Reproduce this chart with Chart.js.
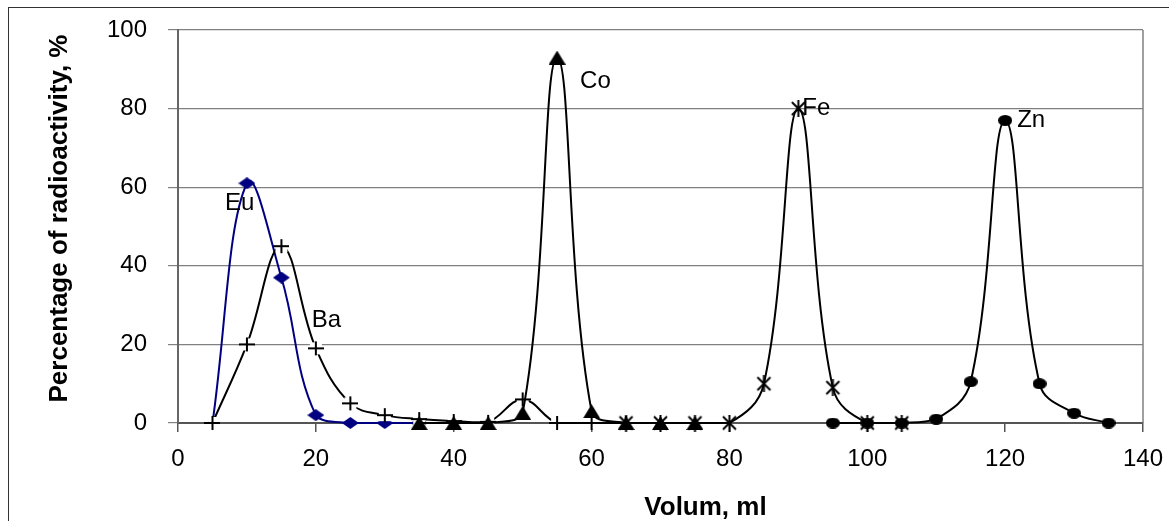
<!DOCTYPE html>
<html>
<head>
<meta charset="utf-8">
<script src="https://cdn.jsdelivr.net/npm/chart.js@4.4.1/dist/chart.umd.min.js"></script>
<style>
    html, body { margin: 0; padding: 0; background: #fff; overflow: hidden; }
    #frame { position: absolute; left: 8px; top: 7px; width: 1300px; height: 700px; border: 1px solid #333; }
    #myChart { position: absolute; left: 0; top: 0; }
</style>
</head>
<body>
<div id="frame"></div>
<canvas id="myChart" width="1169" height="521"></canvas>
<script>
// values (volume in ml, % of radioactivity)
const euVolume = [5, 10, 15, 20, 25, 30, 35];
const euActivity = [0, 61, 37, 2, 0, 0, 0];
const baVolume = [5, 10, 15, 20, 25, 30, 35, 40, 45, 50, 55, 60, 65];
const baActivity = [0, 20, 45, 19, 5, 2, 1, 0.5, 0.3, 6, 0, 0, 0];
const coVolume = [35, 40, 45, 50, 55, 60, 65, 70, 75];
const coActivity = [0, 0, 0, 2.6, 93, 3, 0, 0, 0];
const feVolume = [65, 70, 75, 80, 85, 90, 95, 100, 105];
const feActivity = [0, 0, 0, 0, 10, 80, 9, 0, 0];
const znVolume = [95, 100, 105, 110, 115, 120, 125, 130, 135];
const znActivity = [0, 0, 0, 1, 10.5, 77, 10, 2.5, 0];

const xTickValues = [0, 20, 40, 60, 80, 100, 120, 140];
const yTickValues = [0, 20, 40, 60, 80, 100];
const xTitle = 'Volum, ml';
const yTitle = 'Percentage of radioactivity, %';

const FONT = '"Liberation Sans", Arial, sans-serif';

function makeMarker(w, h, draw) {
    const c = document.createElement('canvas');
    c.width = w;
    c.height = h;
    draw(c.getContext('2d'), w, h);
    return c;
}

const diamond = makeMarker(17, 12, (g, w, h) => {
    g.fillStyle = '#000080';
    g.beginPath();
    g.moveTo(w / 2, 0); g.lineTo(w, h / 2); g.lineTo(w / 2, h); g.lineTo(0, h / 2);
    g.closePath();
    g.fill();
});
const plus = makeMarker(16, 16, (g) => {
    g.fillStyle = '#fff';
    g.fillRect(2, 2, 12, 12);
    g.fillStyle = '#000';
    g.fillRect(0, 7, 16, 2);
    g.fillRect(7, 1, 2, 14);
});
const triangle = makeMarker(17, 14, (g, w, h) => {
    g.fillStyle = '#000';
    g.beginPath();
    g.moveTo(w / 2, 0); g.lineTo(w, h); g.lineTo(0, h);
    g.closePath();
    g.fill();
});
const star = makeMarker(17, 17, (g) => {
    g.strokeStyle = '#000';
    g.lineWidth = 2;
    g.beginPath();
    g.moveTo(2, 2); g.lineTo(15, 15);
    g.moveTo(15, 2); g.lineTo(2, 15);
    g.moveTo(8.5, 0); g.lineTo(8.5, 17);
    g.stroke();
});
const dot = makeMarker(14, 11, (g) => {
    g.fillStyle = '#000';
    g.beginPath();
    g.ellipse(7, 5.5, 7, 5.5, 0, 0, Math.PI * 2);
    g.fill();
});

function points(xs, ys) {
    return xs.map((x, i) => ({ x: x, y: ys[i] }));
}

function series(name, xs, ys, color, marker, order) {
    return {
        label: name,
        data: points(xs, ys),
        borderColor: color,
        backgroundColor: color,
        borderWidth: 2,
        tension: 0.4,
        pointStyle: marker,
        pointRadius: 6,
        clip: false,
        order: order
    };
}

const euSeries = series('Eu', euVolume, euActivity, '#000080', diamond, 5);
euSeries.pointRadius = (ctx) => ctx.dataIndex === 0 ? 0 : 6;

// where each element name sits, relative to one of its points
const nameTags = {
    Eu: { index: 1, dx: -22, dy: 20 },
    Ba: { index: 3, dx: -4, dy: -28 },
    Co: { index: 4, dx: 23, dy: 24 },
    Fe: { index: 5, dx: 4, dy: 0 },
    Zn: { index: 5, dx: 12, dy: 0 }
};

const extras = {
    id: 'extras',
    beforeDatasetsDraw(chart) {
        const { ctx, chartArea } = chart;
        ctx.save();
        ctx.strokeStyle = '#808080';
        ctx.lineWidth = 1.5;
        ctx.beginPath();
        ctx.moveTo(chartArea.right, chartArea.top);
        ctx.lineTo(chartArea.right, chartArea.bottom);
        ctx.stroke();
        ctx.restore();
    },
    afterDatasetsDraw(chart) {
        const ctx = chart.ctx;
        ctx.save();
        ctx.font = '24px ' + FONT;
        ctx.fillStyle = '#000';
        ctx.textAlign = 'left';
        ctx.textBaseline = 'middle';
        chart.data.datasets.forEach((ds, i) => {
            const tag = nameTags[ds.label];
            if (!tag) return;
            const pt = chart.getDatasetMeta(i).data[tag.index];
            ctx.fillText(ds.label, pt.x + tag.dx, pt.y + tag.dy);
        });
        ctx.restore();
    },
    afterDraw(chart) {
        // axis titles (the x title sits right of centre in the original)
        const { ctx, chartArea } = chart;
        const midX = (chartArea.left + chartArea.right) / 2;
        const midY = (chartArea.top + chartArea.bottom) / 2;
        ctx.save();
        ctx.font = 'bold 26px ' + FONT;
        ctx.fillStyle = '#000';
        ctx.textAlign = 'center';
        ctx.textBaseline = 'middle';
        ctx.fillText(xTitle, midX + 45, chartArea.bottom + 85);
        ctx.translate(60, midY - 8);
        ctx.rotate(-Math.PI / 2);
        ctx.fillText(yTitle, 0, 0);
        ctx.restore();
    }
};

new Chart(document.getElementById('myChart'), {
    type: 'line',
    data: {
        datasets: [
            euSeries,
            series('Ba', baVolume, baActivity, '#000', plus, 4),
            series('Co', coVolume, coActivity, '#000', triangle, 3),
            series('Fe', feVolume, feActivity, '#000', star, 2),
            series('Zn', znVolume, znActivity, '#000', dot, 1)
        ]
    },
    options: {
        responsive: false,
        animation: false,
        devicePixelRatio: 1,
        events: [],
        layout: {
            padding: { left: 0, right: 26, top: 30, bottom: 0 }
        },
        plugins: {
            legend: { display: false },
            tooltip: { enabled: false }
        },
        scales: {
            x: {
                type: 'linear',
                min: 0,
                max: 140,
                afterBuildTicks: (scale) => { scale.ticks = xTickValues.map(v => ({ value: v })); },
                afterFit: (scale) => {
                    scale.height = 98;
                    scale.paddingLeft = 0;
                    scale.paddingRight = 0;
                },
                grid: { drawOnChartArea: false, tickLength: 9, color: '#555', lineWidth: 1.5 },
                border: { color: '#555', width: 2 },
                ticks: {
                    color: '#000',
                    padding: 13,
                    maxRotation: 0,
                    font: { family: FONT, size: 24 }
                }
            },
            y: {
                type: 'linear',
                min: 0,
                max: 100,
                afterBuildTicks: (scale) => { scale.ticks = yTickValues.map(v => ({ value: v })); },
                afterFit: (scale) => {
                    scale.width = 178;
                    scale.paddingTop = 0;
                    scale.paddingBottom = 0;
                },
                grid: { color: '#808080', lineWidth: 1.2, tickLength: 10 },
                border: { color: '#666', width: 2 },
                ticks: {
                    color: '#000',
                    padding: 21,
                    font: { family: FONT, size: 24 }
                }
            }
        }
    },
    plugins: [extras]
});
</script>
</body>
</html>
